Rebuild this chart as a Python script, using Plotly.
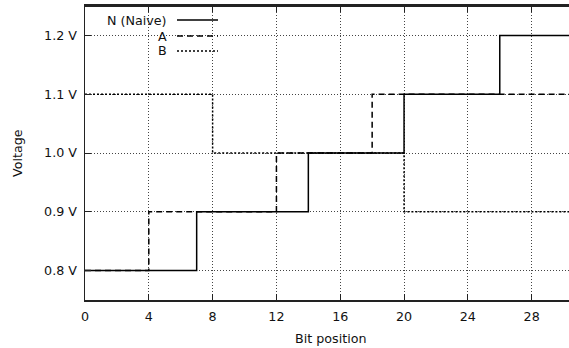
import plotly.graph_objects as go

# Step breakpoints (bit position where a level starts) and voltage levels
n_x = [0, 7, 14, 20, 26, 31]
n_y = [0.8, 0.9, 1.0, 1.1, 1.2, 1.2]
a_x = [0, 4, 12, 18, 31]
a_y = [0.8, 0.9, 1.0, 1.1, 1.1]
b_x = [0, 8, 20, 31]
b_y = [1.1, 1.0, 0.9, 0.9]

series_names = ["N (Naive)", "A", "B"]
x_ticks = [0, 4, 8, 12, 16, 20, 24, 28]
y_ticks = [0.8, 0.9, 1.0, 1.1, 1.2]

FONT = "DejaVu Sans"
FS = 12.7
dashes = ["solid", "6px,4px", "2px,2px"]

fig = go.Figure()
for name, xs, ys, d in zip(series_names, [n_x, a_x, b_x], [n_y, a_y, b_y], dashes):
    fig.add_trace(go.Scatter(x=xs, y=ys, mode="lines", name=name,
                             line=dict(shape="hv", color="black", width=1.5, dash=d),
                             showlegend=False, hoverinfo="skip"))

W, H = 569, 348
L, R, T, B = 85, 0, 6, 48
pw, ph = W - L - R, H - T - B

def px(x):
    return (x - L) / pw

def py(y):
    return (H - B - y) / ph

shapes = [dict(type="rect", xref="paper", yref="paper", x0=px(86), x1=px(225),
               y0=py(62), y1=py(7.5), fillcolor="white", line=dict(width=0),
               layer="between")]
annotations = []
leg_y = [20, 36, 51]
for name, ly, d in zip(series_names, leg_y, dashes):
    annotations.append(dict(xref="paper", yref="paper", x=px(169), y=py(ly),
                            text=name, showarrow=False, xanchor="right", yanchor="middle",
                            font=dict(family=FONT, size=FS, color="#111")))
    shapes.append(dict(type="line", xref="paper", yref="paper", x0=px(177), x1=px(218),
                       y0=py(ly), y1=py(ly), line=dict(color="black", width=1.5, dash=d)))

# axis titles
annotations.append(dict(xref="paper", yref="paper", x=px(331), y=py(338), text="Bit position",
                        showarrow=False, xanchor="center", yanchor="middle",
                        font=dict(family=FONT, size=FS, color="#111")))
annotations.append(dict(xref="paper", yref="paper", x=px(17), y=py(153), text="Voltage",
                        showarrow=False, xanchor="center", yanchor="middle", textangle=-90,
                        font=dict(family=FONT, size=FS, color="#111")))

fig.update_layout(
    width=W, height=H,
    margin=dict(l=L, r=R, t=T, b=B),
    plot_bgcolor="white", paper_bgcolor="white",
    font=dict(family=FONT, size=FS, color="#111"),
    shapes=shapes, annotations=annotations,
    hovermode=False,
    xaxis=dict(range=[0, 30.34], tickvals=x_ticks, ticktext=[str(v) for v in x_ticks],
               showline=True, linecolor="#222", linewidth=2, mirror="ticks",
               ticks="inside", ticklen=6, tickcolor="#222", tickwidth=1,
               showgrid=True, gridcolor="#444", gridwidth=1, griddash="1px,2px",
               zeroline=False, ticklabelstandoff=4),
    yaxis=dict(range=[0.75, 1.25], tickvals=y_ticks,
               ticktext=[f"{v:.1f} V" for v in y_ticks],
               showline=True, linecolor="#222", linewidth=1.5,
               ticks="inside", ticklen=6, tickcolor="#222", tickwidth=1,
               showgrid=True, gridcolor="#444", gridwidth=1, griddash="1px,2px",
               zeroline=False, ticklabelstandoff=4),
)
# top border line
fig.add_shape(type="line", xref="paper", yref="paper", x0=0, x1=1, y0=1, y1=1,
              line=dict(color="#222", width=2), layer="above")

fig.write_html("out.html", config={"displayModeBar": False, "staticPlot": True},
               post_script="document.body.style.margin='0';document.body.style.padding='0';")
